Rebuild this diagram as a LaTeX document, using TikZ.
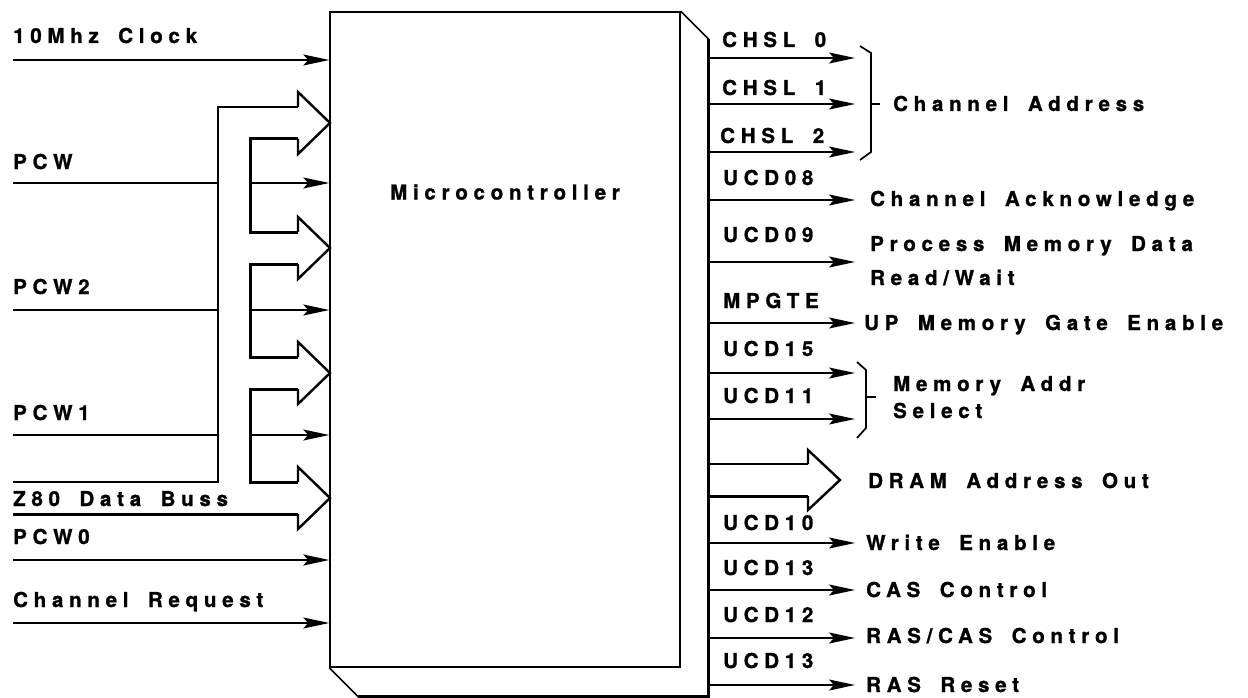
\documentclass[tikz,border=0pt]{standalone}
\usepackage{fontspec}
\setmainfont{TeX Gyre Heros}[LetterSpace=28,WordSpace=1.7,BoldFeatures={FakeBold=1.2}]
\usetikzlibrary{arrows.meta,calc,positioning}
\tikzset{
  font=\bfseries\fontsize{20.5}{27}\selectfont,
  wire/.style={
    line width=1.7pt
  },
  sig/.style={
    wire,
    -{Stealth[length=26pt,width=11pt,inset=5pt]}
  },
  heavy/.style={
    line width=3pt
  },
  bushead/.style={
    line width=2.4pt,
    line join=miter
  },
  lbl/.style={
    anchor=base west,
    inner sep=0pt,
    align=left
  },
  mcbox/.style={
    rectangle,
    draw,
    line width=1.5pt,
    inner sep=0pt,
    minimum width=350pt,
    minimum height=655pt
  }
}

\begin{document}
\begin{tikzpicture}[x=1pt,y=-1pt]
  \useasboundingbox (0,0) rectangle (1248,698);

  % ============================================================
  % Microcontroller block (front face plus the side and bottom)
  % ============================================================
  \node[mcbox] (mc) at (505,339.5) {};
  \node[inner sep=0pt] (mc_lbl) at (505,192) {Microcontroller};

  \draw[wire] (mc.north east) -- ++(28,28) coordinate (side_top);
  \draw[wire] (mc.south west) -- ++(29,29) coordinate (side_bot);
  \draw[heavy] (side_top) -- (side_top |- side_bot) -- (side_bot);

  % ============================================================
  % Inputs on the left
  % ============================================================
  \node[lbl] (clk_lbl) at (13,43) {10Mhz Clock};
  \coordinate (clk_in) at (13,60);
  \draw[sig] (clk_in) -- (clk_in -| mc.west);

  \node[lbl] (pcw_lbl) at (13,169) {PCW};
  \coordinate (pcw_in) at (13,183);
  \coordinate (pcw_mid) at (250,183);
  \draw[wire] (pcw_in) -- (218,183);
  \draw[sig] (pcw_mid) -- (pcw_mid -| mc.west);

  \node[lbl] (pcw2_lbl) at (13,294) {PCW2};
  \coordinate (pcw2_in) at (13,310);
  \coordinate (pcw2_mid) at (250,310);
  \draw[wire] (pcw2_in) -- (218,310);
  \draw[sig] (pcw2_mid) -- (pcw2_mid -| mc.west);

  \node[lbl] (pcw1_lbl) at (13,420) {PCW1};
  \coordinate (pcw1_in) at (13,435);
  \coordinate (pcw1_mid) at (250,435);
  \draw[wire] (pcw1_in) -- (218,435);
  \draw[sig] (pcw1_mid) -- (pcw1_mid -| mc.west);

  % Z80 data buss: outer trunk, branch brackets and open arrow heads
  \node[lbl] (z80_lbl) at (13,506) {Z80 Data Buss};
  \draw[wire] (13,482) -- (218,482) -- (218,107) -- (298,107);
  \draw[bushead] (298,107) -- (298,92) -- (330,123) -- (298,154) -- (298,139);
  \draw[heavy] (298,139) -- (250,139) -- (250,232) -- (298,232);
  \draw[bushead] (298,232) -- (298,217) -- (330,248) -- (298,279) -- (298,264);
  \draw[heavy] (298,264) -- (250,264) -- (250,357) -- (298,357);
  \draw[bushead] (298,357) -- (298,342) -- (330,373) -- (298,404) -- (298,389);
  \draw[heavy] (298,389) -- (250,389) -- (250,482) -- (298,482);
  \draw[bushead] (298,482) -- (298,467) -- (330,498) -- (298,529) -- (298,514);
  \draw[heavy] (298,514) -- (13,514);

  \node[lbl] (pcw0_lbl) at (13,544) {PCW0};
  \coordinate (pcw0_in) at (13,560);
  \draw[sig] (pcw0_in) -- (pcw0_in -| mc.west);

  \node[lbl] (req_lbl) at (13,607) {Channel Request};
  \coordinate (req_in) at (13,623);
  \draw[sig] (req_in) -- (req_in -| mc.west);

  % ============================================================
  % Outputs on the right
  % ============================================================
  \node[lbl] (chsl0_lbl) at (722,47) {CHSL 0};
  \draw[sig] (side_top |- 0,58) -- (855,58);
  \node[lbl] (chsl1_lbl) at (722,95) {CHSL 1};
  \draw[sig] (side_top |- 0,104) -- (855,104);
  \node[lbl] (chsl2_lbl) at (720,143) {CHSL 2};
  \draw[sig] (side_top |- 0,152) -- (855,152);

  % channel address bracket
  \draw[wire] (860,46) -- (871,53) -- (871,152) -- (860,160);
  \draw[wire] (871,104) -- (880,104);
  \node[lbl] (chaddr) at (893,111) {Channel Address};

  \node[lbl] (ucd08_lbl) at (723,185) {UCD08};
  \draw[sig] (side_top |- 0,200) -- (855,200);
  \node[lbl] (chack) at (870,206) {Channel Acknowledge};

  \node[lbl] (ucd09_lbl) at (723,242) {UCD09};
  \draw[sig] (side_top |- 0,262) -- (855,262);
  \node[lbl] (pmd) at (870,285) {Process Memory Data\\[7pt]Read/Wait};

  \node[lbl] (mpgte_lbl) at (723,308) {MPGTE};
  \draw[sig] (side_top |- 0,323) -- (855,323);
  \node[lbl] (upgate) at (864,330) {UP Memory Gate Enable};

  \node[lbl] (ucd15_lbl) at (723,356) {UCD15};
  \draw[sig] (side_top |- 0,373) -- (855,373);
  \node[lbl] (ucd11_lbl) at (723,403) {UCD11};
  \draw[sig] (side_top |- 0,419) -- (855,419);

  % memory address bracket
  \draw[wire] (857,362) -- (866,370) -- (866,428) -- (857,438);
  \draw[wire] (866,397) -- (876,397);
  \node[lbl] (maddr) at (893,418) {Memory Addr\\Select};

  % DRAM address bus, open arrow
  \draw[wire] (side_top |- 0,464) -- (808,464);
  \draw[bushead] (808,464) -- (808,450) -- (840,480) -- (808,510) -- (808,496);
  \draw[heavy] (808,496) -- (side_top |- 0,496);
  \node[lbl] (dram) at (868,488) {DRAM Address Out};

  \node[lbl] (ucd10_lbl) at (723,530) {UCD10};
  \draw[sig] (side_top |- 0,543) -- (855,543);
  \node[lbl] (wren) at (866,550) {Write Enable};

  \node[lbl] (ucd13a_lbl) at (723,575) {UCD13};
  \draw[sig] (side_top |- 0,590) -- (855,590);
  \node[lbl] (cas) at (866,597) {CAS Control};

  \node[lbl] (ucd12_lbl) at (723,622) {UCD12};
  \draw[sig] (side_top |- 0,638) -- (855,638);
  \node[lbl] (rascas) at (866,643) {RAS/CAS Control};

  \node[lbl] (ucd13b_lbl) at (723,668) {UCD13};
  \draw[sig] (side_top |- 0,685) -- (855,685);
  \node[lbl] (rasrst) at (866,692) {RAS Reset};

\end{tikzpicture}
\end{document}
